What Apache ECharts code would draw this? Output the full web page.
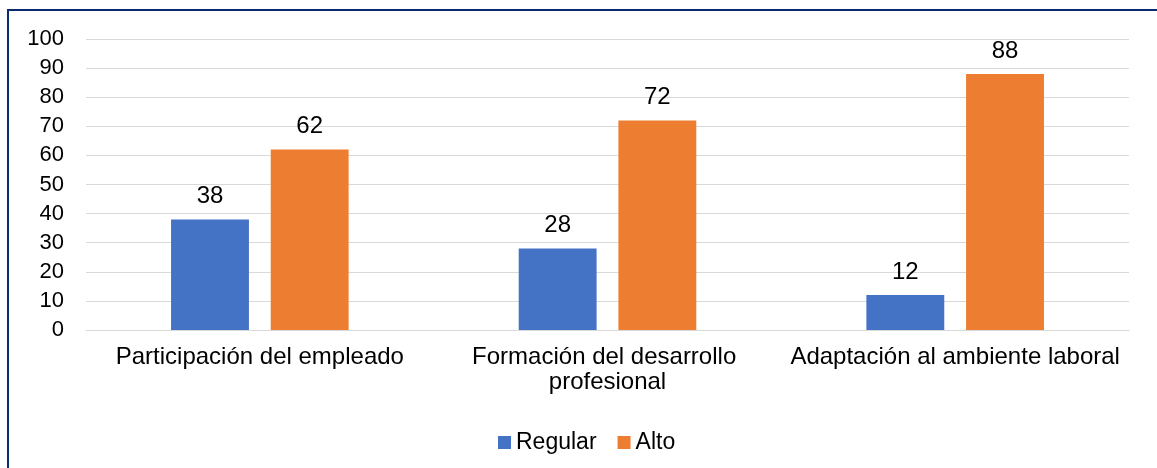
<!DOCTYPE html>
<html>
<head>
<meta charset="utf-8">
<script src="https://cdn.jsdelivr.net/npm/echarts@6/dist/echarts.min.js"></script>
<style>
  html, body { margin: 0; padding: 0; background: #fff; }
  #chart { width: 1157px; height: 468px; }
</style>
</head>
<body>
<div id="chart"></div>
<script>
// Categories and values per level
const categories = [
  'Participación del empleado',
  'Formación del desarrollo profesional',
  'Adaptación al ambiente laboral'
];
const regular = [38, 28, 12];
const alto = [62, 72, 88];
const seriesNames = ['Regular', 'Alto'];

const font = '"Liberation Sans", Arial, sans-serif';
const chart = echarts.init(document.getElementById('chart'), null, { renderer: 'canvas' });

const labelStyle = {
  show: true,
  position: 'top',
  distance: 11,
  color: '#000',
  fontSize: 24,
  fontFamily: font
};

chart.setOption({
  animation: false,
  backgroundColor: '#fff',
  graphic: [{
    type: 'rect',
    shape: { x: 8, y: 10, width: 1170, height: 480 },
    style: { fill: 'none', stroke: '#0b2a6f', lineWidth: 2 },
    silent: true
  }],
  grid: { left: 86, right: 28, top: 39, bottom: 138, containLabel: false },
  legend: {
    data: seriesNames,
    left: 493,
    top: 426,
    itemWidth: 13,
    itemHeight: 13,
    itemGap: 21,
    icon: 'rect',
    textStyle: { color: '#000', fontSize: 23, fontFamily: font }
  },
  xAxis: {
    type: 'category',
    data: categories,
    axisLine: { show: true, lineStyle: { color: '#d9d9d9', width: 1 } },
    axisTick: { show: false },
    axisLabel: {
      color: '#000',
      fontSize: 24,
      fontFamily: font,
      margin: 15,
      lineHeight: 25,
      width: 360,
      overflow: 'break',
      interval: 0
    }
  },
  yAxis: {
    type: 'value',
    min: 0,
    max: 100,
    interval: 10,
    axisLine: { show: false },
    axisTick: { show: false },
    axisLabel: { color: '#000', fontSize: 22, fontFamily: font, margin: 22 },
    splitLine: { lineStyle: { color: '#d9d9d9', width: 1 } }
  },
  series: [
    {
      name: seriesNames[0],
      type: 'bar',
      data: regular,
      barWidth: '22.4%',
      barGap: '28%',
      itemStyle: { color: '#4472C4' },
      label: labelStyle
    },
    {
      name: seriesNames[1],
      type: 'bar',
      data: alto,
      barWidth: '22.4%',
      itemStyle: { color: '#ED7D31' },
      label: labelStyle
    }
  ]
});
</script>
</body>
</html>
